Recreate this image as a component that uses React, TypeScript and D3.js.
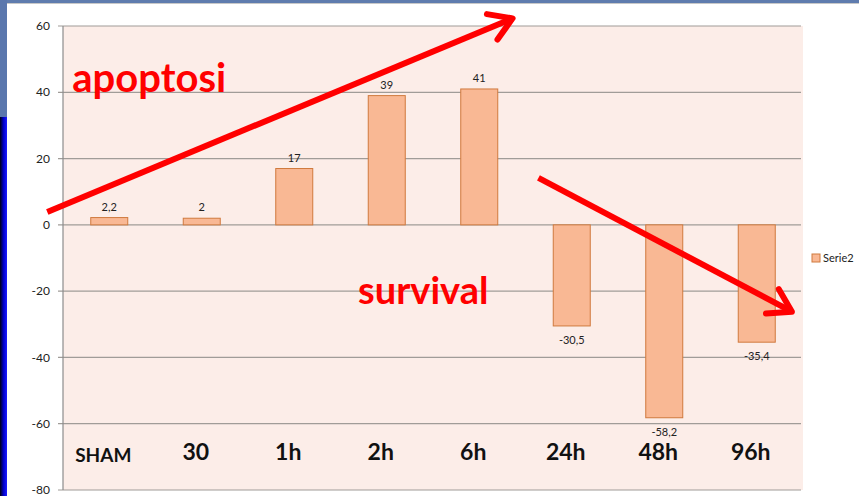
import * as d3 from "d3";

const categories = ["SHAM", "30", "1h", "2h", "6h", "24h", "48h", "96h"];
const serie2 = [2.2, 2, 17, 39, 41, -30.5, -58.2, -35.4];
const yTicks = [60, 40, 20, 0, -20, -40, -60, -80];
const seriesName = "Serie2";

// annotations in data space: x = category index position, y = value
const arrows = [
  { x1: -0.17, y1: 3.9, x2: 4.86, y2: 62.3 },
  { x1: 5.14, y1: 14.2, x2: 7.88, y2: -26.2 },
];
const notes = [
  { text: "apoptosi", x: 0.1, y: 40.2, size: 40 },
  { text: "survival", x: 3.19, y: -23.8, size: 38 },
];

const W = 859;
const H = 496;
const margin = { left: 63, right: 56, top: 26, bottom: 6 };
const font = "Lato, 'Open Sans', sans-serif";

export default function App() {
  const x = d3
    .scaleBand<string>()
    .domain(categories)
    .range([margin.left, W - margin.right]);
  const xi = d3
    .scaleLinear()
    .domain([0, categories.length])
    .range([margin.left, W - margin.right]);
  const y = d3
    .scaleLinear()
    .domain([-80, 60])
    .range([H - margin.bottom, margin.top]);
  const bw = x.bandwidth() * 0.4;
  const fmt = (v: number) => String(v).replace(".", ",");

  const arrowHead = (a: (typeof arrows)[number]) => {
    const px1 = xi(a.x1), py1 = y(a.y1), px2 = xi(a.x2), py2 = y(a.y2);
    const ang = Math.atan2(py2 - py1, px2 - px1);
    const len = 26;
    const spread = (32 * Math.PI) / 180;
    const b1 = [px2 - len * Math.cos(ang - spread), py2 - len * Math.sin(ang - spread)];
    const b2 = [px2 - len * Math.cos(ang + spread), py2 - len * Math.sin(ang + spread)];
    return `M${b1[0]},${b1[1]}L${px2},${py2}L${b2[0]},${b2[1]}`;
  };

  return (
    <svg
      width={W}
      height={H}
      style={{ position: "absolute", left: 0, top: 0, background: "#fff" }}
      fontFamily={font}
    >
      <defs>
        <linearGradient id="edge" x1="0" x2="1" y1="0" y2="0">
          <stop offset="0" stopColor="#000010" />
          <stop offset="0.5" stopColor="#0000c8" />
          <stop offset="1" stopColor="#1a1aff" />
        </linearGradient>
      </defs>
      {/* slide frame */}
      <rect x={0} y={0} width={W} height={3} fill="#5f7cae" />
      <rect x={0} y={3} width={W} height={1} fill="#c8c8c8" />
      <rect x={0} y={0} width={7} height={117} fill="#5a77ad" />
      <rect x={0} y={117} width={7} height={H - 117} fill="url(#edge)" />

      {/* plot area */}
      <rect
        x={margin.left}
        y={margin.top}
        width={W - margin.left - margin.right}
        height={H - margin.top - margin.bottom}
        fill="#fcede8"
      />
      {yTicks.map((t) => (
        <g key={t}>
          <line
            x1={margin.left - 5}
            x2={W - margin.right - 2}
            y1={y(t)}
            y2={y(t)}
            stroke="#a09c98"
            strokeWidth={1.2}
          />
          <text
            x={margin.left - 13}
            y={y(t)}
            dy="0.35em"
            textAnchor="end"
            fontSize={12}
            fill="#222"
          >
            {t}
          </text>
        </g>
      ))}
      <line
        x1={margin.left}
        x2={margin.left}
        y1={margin.top}
        y2={H - margin.bottom}
        stroke="#8c8c8c"
        strokeWidth={1.2}
      />

      {/* bars */}
      {categories.map((c, i) => {
        const v = serie2[i];
        const cx = (x(c) ?? 0) + x.bandwidth() / 2;
        const top = Math.min(y(v), y(0));
        const h = Math.abs(y(v) - y(0));
        return (
          <g key={c}>
            <rect
              x={cx - bw / 2}
              y={top}
              width={bw}
              height={h}
              fill="#f9b894"
              stroke="#d07a3e"
              strokeWidth={1}
            />
            <text
              x={cx}
              y={v >= 0 ? y(v) - 7 : y(v) + 18}
              textAnchor="middle"
              fontSize={11}
              fill="#222"
            >
              {fmt(v)}
            </text>
            <text
              x={cx - 6}
              y={c === "SHAM" ? 462 : 460}
              textAnchor="middle"
              fontSize={c === "SHAM" ? 19 : 23}
              fontWeight="bold"
              fill="#111"
            >
              {c}
            </text>
          </g>
        );
      })}

      {/* legend */}
      <rect x={812} y={254} width={8} height={8} fill="#f9b894" stroke="#d07a3e" />
      <text x={823} y={262} fontSize={11} fill="#222">
        {seriesName}
      </text>

      {/* annotations */}
      {notes.map((n) => (
        <text
          key={n.text}
          x={xi(n.x)}
          y={y(n.y)}
          fontSize={n.size}
          fontWeight="bold"
          fill="#ff0000"
        >
          {n.text}
        </text>
      ))}
      {arrows.map((a, i) => (
        <g key={i} stroke="#ff0000" strokeWidth={6} fill="none" strokeLinecap="round" strokeLinejoin="round">
          <line x1={xi(a.x1)} y1={y(a.y1)} x2={xi(a.x2)} y2={y(a.y2)} strokeLinecap="butt" />
          <path d={arrowHead(a)} />
        </g>
      ))}
    </svg>
  );
}
